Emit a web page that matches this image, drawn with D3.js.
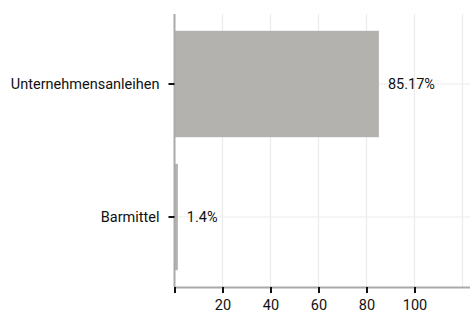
<!DOCTYPE html>
<html>
<head>
<meta charset="utf-8">
<script src="https://cdn.jsdelivr.net/npm/d3@7"></script>
<style>
  html, body { margin: 0; padding: 0; background: #fff; }
  svg text { font-family: Roboto, "Noto Sans", sans-serif; fill: #111; }
</style>
</head>
<body>
<div id="chart"></div>
<script>
// Daten
const categories = ['Unternehmensanleihen', 'Barmittel'];
const values = [85.17, 1.4];
const valueLabels = ['85.17%', '1.4%'];
const xTicks = [0, 20, 40, 60, 80, 100];
const xTickLabels = ['', '20', '40', '60', '80', '100'];
const xGrid = [20, 40, 60, 80, 100, 120];

const width = 470;
const height = 314;
const margin = { top: 14, right: 0, bottom: 27, left: 174.5 };
const fontSize = '14.5px';

const svg = d3.select('#chart')
  .append('svg')
  .attr('width', width)
  .attr('height', height);

const x = d3.scaleLinear()
  .domain([0, 123])
  .range([margin.left, margin.left + 123 * 2.4]);

const y = d3.scaleBand()
  .domain(categories)
  .range([17.5, 283.5])
  .paddingInner(0.2)
  .paddingOuter(0.1);

const plotBottom = height - margin.bottom;

// Gitter
svg.append('g')
  .selectAll('line')
  .data(xGrid)
  .join('line')
  .attr('x1', d => x(d))
  .attr('x2', d => x(d))
  .attr('y1', margin.top)
  .attr('y2', plotBottom)
  .attr('stroke', '#ebebeb')
  .attr('stroke-width', 1.2);

svg.append('g')
  .selectAll('line')
  .data(categories)
  .join('line')
  .attr('x1', margin.left)
  .attr('x2', width)
  .attr('y1', d => y(d) + y.bandwidth() / 2)
  .attr('y2', d => y(d) + y.bandwidth() / 2)
  .attr('stroke', '#ebebeb')
  .attr('stroke-width', 1.2);

// Balken
svg.append('g')
  .selectAll('rect')
  .data(values)
  .join('rect')
  .attr('x', x(0))
  .attr('y', (d, i) => y(categories[i]))
  .attr('width', d => x(d) - x(0))
  .attr('height', y.bandwidth())
  .attr('fill', '#b3b2ae');

// Wertbeschriftungen
svg.append('g')
  .selectAll('text')
  .data(values)
  .join('text')
  .attr('x', d => x(d) + 9)
  .attr('y', (d, i) => y(categories[i]) + y.bandwidth() / 2)
  .attr('dy', '0.35em')
  .style('font-size', fontSize)
  .text((d, i) => valueLabels[i]);

// Achsen
const xAxis = d3.axisBottom(x)
  .tickValues(xTicks)
  .tickFormat((d, i) => xTickLabels[i])
  .tickSize(6)
  .tickPadding(7)
  .tickSizeOuter(0);

const xAxisG = svg.append('g')
  .attr('transform', `translate(0,${plotBottom})`)
  .call(xAxis);

xAxisG.select('.domain').attr('stroke', '#aaa').attr('stroke-width', 2);
xAxisG.selectAll('.tick line').attr('stroke', '#111').attr('stroke-width', 2);
xAxisG.selectAll('.tick text').style('font-size', fontSize).attr('fill', '#111');

const yAxis = d3.axisLeft(y)
  .tickSize(6)
  .tickPadding(9)
  .tickSizeOuter(0);

const yAxisG = svg.append('g')
  .attr('transform', `translate(${margin.left},0)`)
  .call(yAxis);

yAxisG.select('.domain')
  .attr('d', `M0,${margin.top}V${plotBottom}`)
  .attr('stroke', '#aaa')
  .attr('stroke-width', 2);
yAxisG.selectAll('.tick line').attr('stroke', '#111').attr('stroke-width', 2);
yAxisG.selectAll('.tick text').style('font-size', fontSize).attr('fill', '#111');
</script>
</body>
</html>
